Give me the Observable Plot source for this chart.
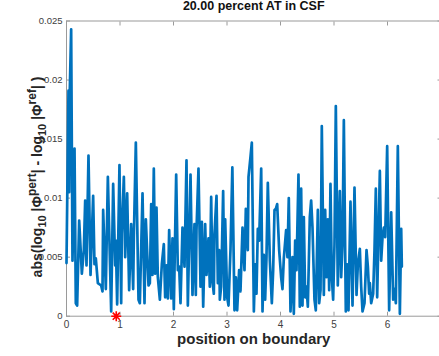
<!DOCTYPE html>
<html>
<head>
<meta charset="utf-8">
<script src="https://cdn.jsdelivr.net/npm/d3@7"></script>
<script src="https://cdn.jsdelivr.net/npm/@observablehq/plot@0.6"></script>
<style>
  html, body { margin: 0; padding: 0; background: #fff; overflow: hidden; }
  #chart svg { display: block; }
</style>
</head>
<body>
<div id="chart"></div>
<script>
// Position along the boundary (radians) and the log-magnitude difference there
const pos = [
  0.000, 0.037, 0.050, 0.062, 0.087, 0.112, 0.150, 0.174, 0.199, 0.237,
  0.287, 0.324, 0.349, 0.374, 0.411, 0.449, 0.498, 0.523, 0.548, 0.586,
  0.648, 0.673, 0.685, 0.735, 0.773, 0.835, 0.872, 0.910, 0.922, 0.947,
  0.990, 1.022, 1.034, 1.072, 1.097, 1.134, 1.171, 1.209, 1.246, 1.259,
  1.296, 1.346, 1.371, 1.421, 1.458, 1.483, 1.533, 1.558, 1.583, 1.607,
  1.632, 1.657, 1.682, 1.707, 1.745, 1.782, 1.819, 1.844, 1.869, 1.894,
  1.919, 1.956, 1.981, 2.006, 2.050, 2.081, 2.106, 2.131, 2.168, 2.206,
  2.243, 2.268, 2.318, 2.355, 2.392, 2.417, 2.430, 2.467, 2.505, 2.530,
  2.555, 2.592, 2.617, 2.654, 2.679, 2.704, 2.729, 2.754, 2.766, 2.804,
  2.829, 2.854, 2.866, 2.891, 2.928, 2.953, 2.966, 3.003, 3.028, 3.065,
  3.100, 3.140, 3.165, 3.190, 3.227, 3.252, 3.290, 3.327, 3.352, 3.389,
  3.402, 3.439, 3.464, 3.502, 3.526, 3.551, 3.576, 3.601, 3.639, 3.664,
  3.688, 3.713, 3.738, 3.763, 3.801, 3.838, 3.863, 3.888, 3.913, 3.938,
  3.975, 4.012, 4.037, 4.062, 4.105, 4.130, 4.155, 4.187, 4.224, 4.249,
  4.274, 4.299, 4.336, 4.361, 4.386, 4.411, 4.436, 4.461, 4.486, 4.511,
  4.548, 4.573, 4.598, 4.635, 4.660, 4.698, 4.723, 4.748, 4.772, 4.810,
  4.835, 4.860, 4.885, 4.910, 4.934, 4.959, 4.984, 5.009, 5.034, 5.071,
  5.109, 5.134, 5.159, 5.184, 5.221, 5.246, 5.271, 5.308, 5.346, 5.383,
  5.421, 5.446, 5.483, 5.508, 5.533, 5.570, 5.608, 5.633, 5.657, 5.670,
  5.695, 5.732, 5.757, 5.782, 5.807, 5.832, 5.857, 5.882, 5.907, 5.932,
  5.957, 5.994, 6.031, 6.069, 6.106, 6.131, 6.156, 6.193, 6.231, 6.256,
  6.268
];
const err = [
  0.0045, 0.0191, 0.0105, 0.0192, 0.0243, 0.0047, 0.0142, 0.0011, 0.0009, 0.0081,
  0.0036, 0.0056, 0.0098, 0.0043, 0.0136, 0.0035, 0.0102, 0.0044, 0.0049, 0.0028,
  0.0026, 0.0021, 0.0090, 0.0023, 0.0118, 0.0004, 0.0112, 0.0043, 0.0064, 0.0010,
  0.0128, 0.0011, 0.0070, 0.0118, 0.0050, 0.0104, 0.0022, 0.0078, 0.0023, 0.0067,
  0.0147, 0.0014, 0.0011, 0.0104, 0.0011, 0.0082, 0.0026, 0.0028, 0.0095, 0.0035,
  0.0125, 0.0036, 0.0092, 0.0033, 0.0014, 0.0044, 0.0061, 0.0016, 0.0043, 0.0015,
  0.0073, 0.0015, 0.0066, 0.0006, 0.0120, 0.0039, 0.0042, 0.0011, 0.0075, 0.0042,
  0.0132, 0.0009, 0.0120, 0.0018, 0.0078, 0.0018, 0.0073, 0.0125, 0.0025, 0.0080,
  0.0008, 0.0078, 0.0035, 0.0066, 0.0025, 0.0101, 0.0029, 0.0019, 0.0070, 0.0102,
  0.0028, 0.0056, 0.0014, 0.0025, 0.0106, 0.0014, 0.0082, 0.0016, 0.0009, 0.0056,
  0.0126, 0.0005, 0.0033, 0.0005, 0.0039, 0.0021, 0.0075, 0.0039, 0.0091, 0.0056,
  0.0118, 0.0135, 0.0147, 0.0004, 0.0044, 0.0019, 0.0074, 0.0064, 0.0125, 0.0004,
  0.0052, 0.0014, 0.0050, 0.0113, 0.0047, 0.0011, 0.0039, 0.0090, 0.0091, 0.0095,
  0.0056, 0.0033, 0.0023, 0.0049, 0.0073, 0.0050, 0.0100, 0.0004, 0.0050, 0.0002,
  0.0064, 0.0039, 0.0120, 0.0008, 0.0108, 0.0009, 0.0084, 0.0016, 0.0025, 0.0008,
  0.0084, 0.0098, 0.0075, 0.0014, 0.0005, 0.0090, 0.0011, 0.0022, 0.0161, 0.0018,
  0.0090, 0.0033, 0.0082, 0.0022, 0.0112, 0.0033, 0.0014, 0.0061, 0.0178, 0.0026,
  0.0106, 0.0033, 0.0061, 0.0166, 0.0004, 0.0044, 0.0005, 0.0097, 0.0009, 0.0109,
  0.0018, 0.0044, 0.0057, 0.0025, 0.0004, 0.0011, 0.0056, 0.0042, 0.0019, 0.0028,
  0.0011, 0.0019, 0.0056, 0.0108, 0.0016, 0.0070, 0.0123, 0.0047, 0.0067, 0.0075,
  0.0067, 0.0144, 0.0005, 0.0088, 0.0014, 0.0023, 0.0011, 0.0144, 0.0002, 0.0074,
  0.0042
];

// Marked boundary location
const markerPos = [0.93];
const markerVal = [0];

const xTicks = [0, 1, 2, 3, 4, 5, 6, 7];
const xTickLabels = ["0", "1", "2", "3", "4", "5", "6", "7"];
const yTicks = [0, 0.005, 0.01, 0.015, 0.02, 0.025];
const yTickLabels = ["0", "0.005", "0.01", "0.015", "0.02", "0.025"];
const titleText = "20.00 percent AT in CSF";
const xLabel = "position on boundary";

const series = pos.map((p, i) => ({pos: p, err: err[i]}));
const marker = markerPos.map((p, i) => ({pos: p, err: markerVal[i]}));

// MATLAB-style '*' marker: a plus and a cross overlaid
const starSymbol = {
  draw(context, size) {
    const r = Math.sqrt(size / Math.PI);
    const d = r * Math.SQRT1_2;
    context.moveTo(-r, 0); context.lineTo(r, 0);
    context.moveTo(0, -r); context.lineTo(0, r);
    context.moveTo(-d, -d); context.lineTo(d, d);
    context.moveTo(-d, d); context.lineTo(d, -d);
  }
};

const axisColor = "#9a9a9a";
const labelColor = "#404040";
const blank = () => "";

const chart = Plot.plot({
  width: 439,
  height: 356,
  marginLeft: 66,
  marginRight: -1.5,
  marginTop: 20.5,
  marginBottom: 40.3,
  style: {fontFamily: "'Liberation Sans', Arial, sans-serif", background: "#fff"},
  x: {domain: [0, 7]},
  y: {domain: [0, 0.025]},
  marks: [
    Plot.frame({stroke: axisColor, strokeWidth: 1}),
    Plot.axisX({ticks: xTicks, anchor: "bottom", tickSize: -4, tickFormat: blank, label: null, stroke: axisColor}),
    Plot.axisX({ticks: xTicks, anchor: "top", tickSize: -4, tickFormat: blank, label: null, stroke: axisColor}),
    Plot.axisY({ticks: yTicks, anchor: "left", tickSize: -4, tickFormat: blank, label: null, stroke: axisColor}),
    Plot.axisY({ticks: yTicks, anchor: "right", tickSize: -4, tickFormat: blank, label: null, stroke: axisColor}),
    Plot.axisX({ticks: xTicks.slice(0, -1), anchor: "bottom", tickSize: 0, tickPadding: 5, label: null,
      tickFormat: (d) => xTickLabels[xTicks.indexOf(d)], fontSize: 10, fill: labelColor}),
    Plot.axisY({ticks: yTicks, anchor: "left", tickSize: 0, tickPadding: 4, label: null,
      tickFormat: (d) => yTickLabels[yTicks.indexOf(d)], fontSize: 9.5, fill: labelColor}),
    Plot.line(series, {x: "pos", y: "err", stroke: "#0072bd", strokeWidth: 2.7,
      strokeLinejoin: "round", strokeLinecap: "round"}),
    Plot.dot(marker, {x: "pos", y: "err", symbol: starSymbol, r: 5, stroke: "#ff0000",
      strokeWidth: 1.6, fill: "none"}),
    Plot.text([titleText], {frameAnchor: "top", dy: -11, lineAnchor: "bottom",
      fontSize: 12.5, fontWeight: "bold", fill: "#111"}),
    Plot.text([xLabel], {frameAnchor: "bottom", dy: 17, lineAnchor: "top",
      fontSize: 15, fontWeight: "bold", fill: "#262626"})
  ]
});

document.getElementById("chart").appendChild(chart);

// Y-axis label with subscripts and superscripts
const svg = d3.select(chart);
const ylab = svg.append("text")
  .attr("transform", "translate(42,177) rotate(-90)")
  .attr("text-anchor", "middle")
  .attr("fill", "#262626")
  .style("font-family", "'Liberation Sans', Arial, sans-serif")
  .style("font-weight", "bold")
  .style("font-size", "14px");
const parts = [
  ["abs(log", 0], ["10", -1], [" |\u03a6", 0], ["pert", 1],
  ["| - log", 0], ["10", -1], [" |\u03a6", 0], ["ref", 1], ["| )", 0]
];
for (const [t, k] of parts) {
  const ts = ylab.append("tspan").text(t).datum(k);
  if (k === 1) ts.attr("dy", -6).style("font-size", "12px");
  if (k === -1) ts.attr("dy", 4).style("font-size", "11px");
}
// return to the baseline after each raised or lowered run
let prev = 0;
ylab.selectAll("tspan").each(function(k) {
  if (k === 0 && prev !== 0) d3.select(this).attr("dy", prev === 1 ? 6 : -4);
  prev = k;
});
</script>
</body>
</html>
